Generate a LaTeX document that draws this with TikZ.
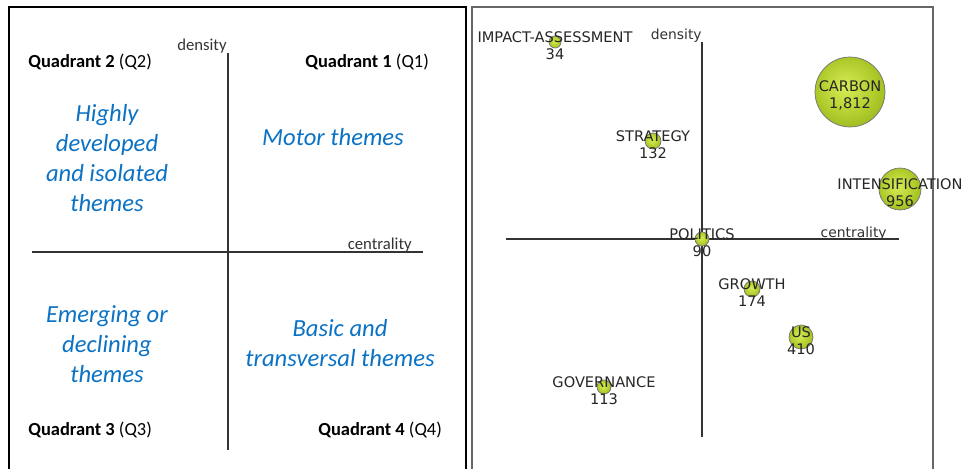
\documentclass[tikz,border=0pt]{standalone}
\usepackage{fontspec}
\usepackage{xcolor}
\setmainfont{Carlito}
\newfontfamily\vfont{DejaVu Sans}
\definecolor{qblue}{HTML}{0B72C4}
\definecolor{bubin}{HTML}{D8EC55}
\definecolor{bubmid}{HTML}{B0CC2C}
\definecolor{bubdark}{HTML}{86A616}
\definecolor{bubout}{HTML}{5C760C}
\pgfdeclareradialshading{bubshade}{\pgfpoint{-4bp}{4bp}}{color(0bp)=(bubin); color(20bp)=(bubmid); color(38bp)=(bubdark); color(50bp)=(bubout)}

\begin{document}
\begin{tikzpicture}[x=0.02cm,y=-0.02cm,
  quad/.style={font=\fontsize{10.5}{12}\selectfont,anchor=west,inner sep=0pt},
  theme/.style={font=\itshape\fontsize{14}{17}\selectfont,text=qblue,align=center},
  axlab/.style={font=\fontsize{9.5}{11}\selectfont,text=black!80,anchor=base east,inner sep=0pt},
  axlabv/.style={font=\vfont\fontsize{7.9}{9.6}\selectfont,text=black!80,anchor=base east,inner sep=0pt},
  axis/.style={draw=black!80,line width=0.6pt},
  bubble/.style={circle,shading=bubshade,draw=black!55,line width=0.4pt,inner sep=0pt},
  kw/.style={font=\vfont\fontsize{8.3}{9.6}\selectfont,text=black!85,align=center,inner sep=0pt,yshift=-2pt}]
\useasboundingbox (0,0) rectangle (963,469);

% left panel: the four quadrants
\draw[line width=1pt] (9,469) -- (9,7) -- (466,7) -- (466,469);
\coordinate (ly-top) at (228,53);
\coordinate (ly-bot) at (228,450);
\coordinate (lx-l) at (32,252);
\coordinate (lx-r) at (423,252);
\draw[axis] (ly-top) -- (ly-bot);
\draw[axis] (lx-l) -- (lx-r);
\node[axlab] (ldens) at (227,51) {density};
\node[axlab] (lcent) at (412,250) {centrality};

\node[quad] (q2) at (28,62) {\textbf{Quadrant 2} (Q2)};
\node[quad] (q1) at (305,62) {\textbf{Quadrant 1} (Q1)};
\node[quad] (q3) at (28,430) {\textbf{Quadrant 3} (Q3)};
\node[quad] (q4) at (318,430) {\textbf{Quadrant 4} (Q4)};

\node[theme] (t2) at (107,158) {Highly\\developed\\and isolated\\themes};
\node[theme] (t1) at (333,137) {Motor themes};
\node[theme] (t3) at (107,344) {Emerging or\\declining\\themes};
\node[theme] (t4) at (340,343) {Basic and\\transversal themes};

% right panel: strategic map
\draw[black!60,line width=0.6pt] (472,469) -- (472,7) -- (933,7) -- (933,469);
\coordinate (ry-top) at (702,42);
\coordinate (ry-bot) at (702,437);
\coordinate (rx-l) at (506,239);
\coordinate (rx-r) at (899,239);
\draw[axis] (ry-top) -- (ry-bot);
\draw[axis] (rx-l) -- (rx-r);
\node[axlabv] (rdens) at (702,40) {density};
\node[axlabv] (rcent) at (887,238) {centrality};

\foreach \n/\x/\y/\rad/\lab/\cnt in {impact/555/42/6/IMPACT-ASSESSMENT/34,
    strategy/653/141/8/STRATEGY/132, carbon/850/92/35/CARBON/1{,}812,
    intens/900/189/21/INTENSIFICATION/956, politics/702/239/7/POLITICS/90,
    growth/752/289/8/GROWTH/174, us/801/337/12/US/410,
    gov/604/387/7/GOVERNANCE/113}
{ \node[bubble,minimum size=\rad*0.04cm] (\n) at (\x,\y) {};
  \node[kw] (\n-t) at (\n) {\lab\\\cnt};}
\end{tikzpicture}
\end{document}
